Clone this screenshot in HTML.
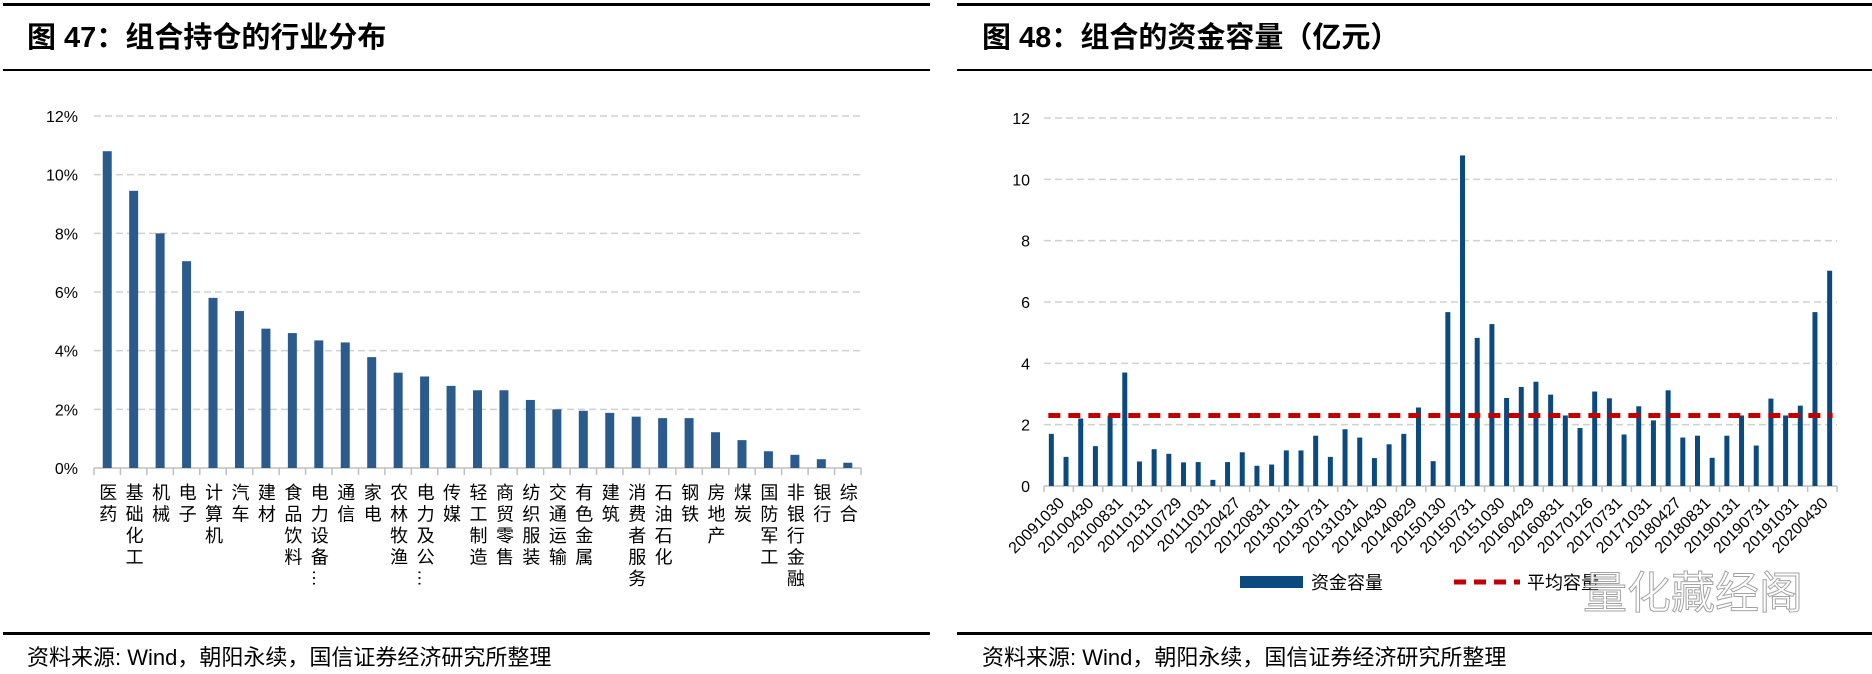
<!DOCTYPE html>
<html><head><meta charset="utf-8">
<style>
html,body{margin:0;padding:0;background:#fff;}
svg{display:block;font-family:"Liberation Sans","Noto Sans CJK SC",sans-serif;}
</style></head>
<body>
<svg id="root" width="1872" height="674" viewBox="0 0 1872 674" xmlns="http://www.w3.org/2000/svg">
  <!-- left panel frame -->
  <rect x="3" y="3" width="927" height="3" fill="#000"/>
  <text x="27" y="47" font-size="29" font-weight="bold" fill="#000" font-family="'Liberation Sans','Noto Sans CJK SC',sans-serif">图 47：组合持仓的行业分布</text>
  <rect x="3" y="69" width="927" height="2" fill="#000"/>
  <rect x="3" y="632" width="927" height="3" fill="#000"/>
  <text x="27" y="665" font-size="22" fill="#000">资料来源: Wind，朝阳永续，国信证券经济研究所整理</text>

  <!-- right panel frame -->
  <rect x="957" y="3" width="915" height="3" fill="#000"/>
  <text x="982" y="47" font-size="29" font-weight="bold" fill="#000">图 48：组合的资金容量（亿元）</text>
  <rect x="957" y="69" width="915" height="2" fill="#000"/>
  <rect x="957" y="632" width="915" height="3" fill="#000"/>
  <text x="982" y="665" font-size="22" fill="#000">资料来源: Wind，朝阳永续，国信证券经济研究所整理</text>

  <g id="left"></g>
  <g id="right"></g>

  <!-- legend right -->
  <rect x="1240" y="576" width="63" height="12" fill="#0b4a7e"/>
  <text x="1311" y="589" font-size="18" fill="#000">资金容量</text>
  <line x1="1454" y1="582" x2="1520" y2="582" stroke="#c00000" stroke-width="5" stroke-dasharray="12,8"/>
  <text x="1527" y="589" font-size="18" fill="#000">平均容量</text>
  <text x="1583" y="608" font-size="44" fill="#fff" stroke="#9a9a9a" stroke-width="1" opacity="0.9">量化藏经阁</text>
</svg>
<script>
const NS='http://www.w3.org/2000/svg';
// ---- left chart data ----
const industries=['医药','基础化工','机械','电子','计算机','汽车','建材','食品饮料','电力设备…','通信','家电','农林牧渔','电力及公…','传媒','轻工制造','商贸零售','纺织服装','交通运输','有色金属','建筑','消费者服务','石油石化','钢铁','房地产','煤炭','国防军工','非银行金融','银行','综合'];
const weights=[10.8,9.45,8.0,7.05,5.8,5.35,4.75,4.6,4.35,4.28,3.78,3.25,3.12,2.8,2.65,2.65,2.32,2.0,1.95,1.88,1.75,1.7,1.7,1.22,0.95,0.57,0.45,0.3,0.18];
const leftTicks=[0,2,4,6,8,10,12];
const leftTickLabels=['0%','2%','4%','6%','8%','10%','12%'];
// ---- right chart data ----
const dateLabels=['20091030','20100430','20100831','20110131','20110729','20111031','20120427','20120831','20130131','20130731','20131031','20140430','20140829','20150130','20150731','20151030','20160429','20160831','20170126','20170731','20171031','20180427','20180831','20190131','20190731','20191031','20200430'];
const capacity=[1.7,0.95,2.2,1.3,2.3,3.7,0.8,1.2,1.05,0.77,0.78,0.2,0.78,1.1,0.66,0.7,1.16,1.16,1.64,0.95,1.85,1.58,0.91,1.36,1.7,2.56,0.81,5.67,10.78,4.83,5.28,2.87,3.23,3.4,2.98,2.3,1.89,3.08,2.86,1.68,2.6,2.14,3.12,1.58,1.64,0.92,1.64,2.3,1.32,2.85,2.3,2.62,5.67,7.02];
const avgCapacity=[2.3];
const rightTicks=[0,2,4,6,8,10,12];

function el(tag,attrs,parent,text){const e=document.createElementNS(NS,tag);for(const k in attrs)e.setAttribute(k,attrs[k]);if(text!==undefined)e.textContent=text;parent.appendChild(e);return e;}

// ---- left ----
(function(){
  const g=document.getElementById('left');
  const x0=94,x1=861,y0=468,yTop=116,max=12;
  const y=v=>y0-(v/max)*(y0-yTop);
  const bw=(x1-x0)/industries.length;
  const xc=i=>x0+bw*(i+0.5);
  leftTicks.forEach((t,i)=>{
    if(t>0){const l=el('line',{x1:x0,x2:x1,y1:y(t),y2:y(t),stroke:'#d0d0d0','stroke-width':1.5,'stroke-dasharray':'7,4'},g);
    
    }
    const tx=el('text',{x:78,y:y(t)+6,'font-size':16,'text-anchor':'end',fill:'#000'},g,leftTickLabels[i]);
    
    
  });
  const ax=el('line',{x1:x0,x2:x1,y1:y0,y2:y0,stroke:'#bfbfbf','stroke-width':1.5},g);
  
  
  for(let i=0;i<=industries.length;i++){
    const tk=el('line',{x1:x0+bw*i,x2:x0+bw*i,y1:y0,y2:y0+7,stroke:'#bfbfbf','stroke-width':1.5},g);
    
    
  }
  weights.forEach((v,i)=>{
    const r=el('rect',{x:xc(i)-4.5,y:y(v),width:9,height:y0-y(v),fill:'#2b5b8c'},g);
    
    
  });
  industries.forEach((n,i)=>{
    const t=el('text',{x:xc(i),y:483,'font-size':18,fill:'#000','writing-mode':'vertical-rl','glyph-orientation-vertical':0,'letter-spacing':3.5},g,n);
    
    
  });
})();

// ---- right ----
(function(){
  const g=document.getElementById('right');
  const x0=1044,x1=1837,y0=486,yTop=118,max=12;
  const y=v=>y0-(v/max)*(y0-yTop);
  const bw=(x1-x0)/capacity.length;
  const xc=i=>x0+bw*(i+0.5);
  rightTicks.forEach(t=>{
    if(t>0){const l=el('line',{x1:x0,x2:x1,y1:y(t),y2:y(t),stroke:'#d0d0d0','stroke-width':1.5,'stroke-dasharray':'7,4'},g);
    
    }
    const tx=el('text',{x:1030,y:y(t)+6,'font-size':16,'text-anchor':'end',fill:'#000'},g,String(t));
    
    
  });
  const ax=el('line',{x1:x0,x2:x1,y1:y0,y2:y0,stroke:'#bfbfbf','stroke-width':1.5},g);
  
  
  for(let i=0;i<=capacity.length;i+=2){
    const tk=el('line',{x1:x0+bw*i,x2:x0+bw*i,y1:y0,y2:y0+6,stroke:'#bfbfbf','stroke-width':1.5},g);
    
    
  }
  capacity.forEach((v,i)=>{
    const r=el('rect',{x:xc(i)-2.5,y:y(v),width:5,height:y0-y(v),fill:'#0b4a7e'},g);
    
    
  });
  const avg=el('line',{x1:xc(0)-3,x2:xc(capacity.length-1)+3,y1:y(avgCapacity[0]),y2:y(avgCapacity[0]),stroke:'#c00000','stroke-width':5,'stroke-dasharray':'12,8'},g);
  
  
  dateLabels.forEach((d,k)=>{
    const cx=xc(k*2)+6, cy=y0+10;
    const t=el('text',{x:cx,y:cy,'font-size':16,'text-anchor':'end',fill:'#000',transform:`rotate(-45 ${cx} ${cy})`,dy:'0.7em'},g,d);
    
    
  });
})();
</script>
</body></html>
